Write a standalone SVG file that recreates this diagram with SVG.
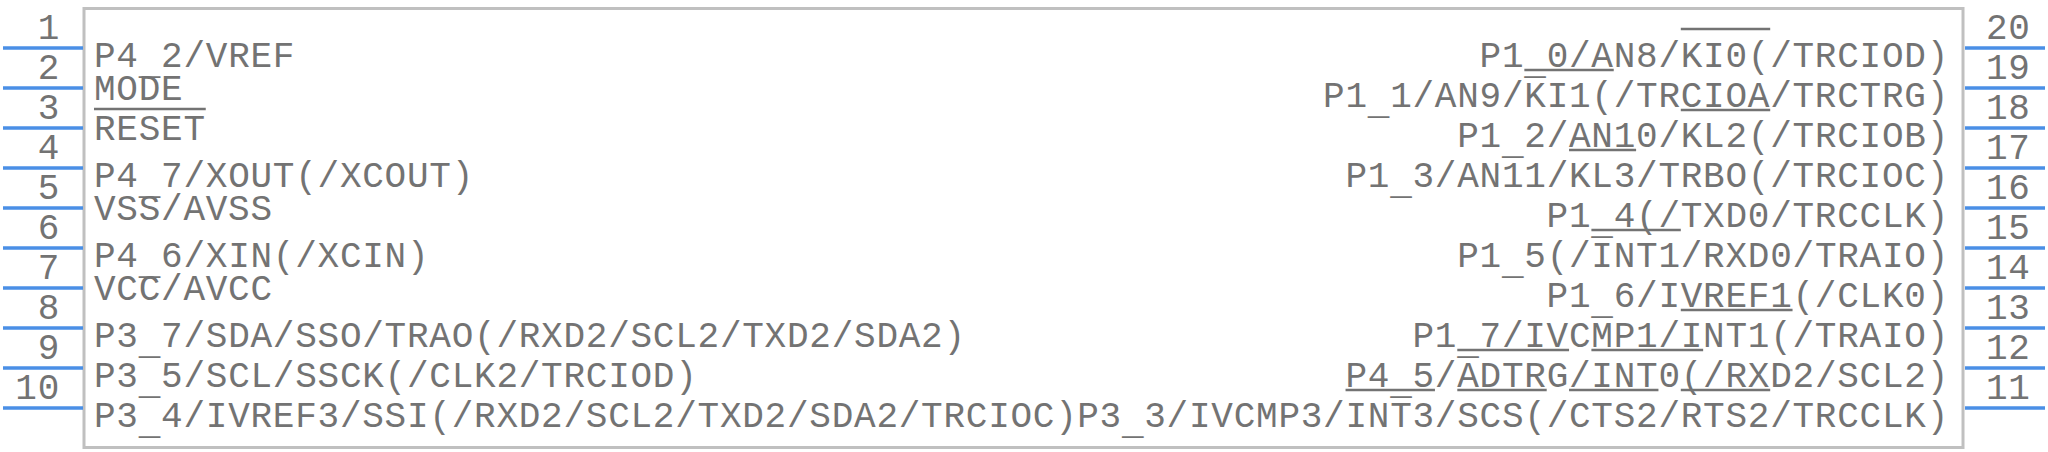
<svg xmlns="http://www.w3.org/2000/svg" width="2048" height="452" viewBox="0 0 2048 452">
<style>
.lbl{font-family:"Liberation Mono","Courier New",monospace;font-size:36px;letter-spacing:0.75px;fill:#737373}
.num{font-family:"Liberation Mono","Courier New",monospace;font-size:36px;letter-spacing:0.75px;fill:#737373}
.r{text-anchor:end}
.pin{stroke:#4a8fe6;stroke-width:3.5;fill:none}
.bar{stroke:#737373;stroke-width:2.5;fill:none}
</style>
<rect id="body" x="84" y="8.5" width="1879" height="439" fill="#ffffff" stroke="#c0c0c0" stroke-width="3"/>
<g id="connectors">
<line class="pin" x1="3" y1="48" x2="83" y2="48"/>
<line class="pin" x1="3" y1="88" x2="83" y2="88"/>
<line class="pin" x1="3" y1="128" x2="83" y2="128"/>
<line class="pin" x1="3" y1="168" x2="83" y2="168"/>
<line class="pin" x1="3" y1="208" x2="83" y2="208"/>
<line class="pin" x1="3" y1="248" x2="83" y2="248"/>
<line class="pin" x1="3" y1="288" x2="83" y2="288"/>
<line class="pin" x1="3" y1="328" x2="83" y2="328"/>
<line class="pin" x1="3" y1="368" x2="83" y2="368"/>
<line class="pin" x1="3" y1="408" x2="83" y2="408"/>
<line class="pin" x1="1965" y1="48" x2="2045" y2="48"/>
<line class="pin" x1="1965" y1="88" x2="2045" y2="88"/>
<line class="pin" x1="1965" y1="128" x2="2045" y2="128"/>
<line class="pin" x1="1965" y1="168" x2="2045" y2="168"/>
<line class="pin" x1="1965" y1="208" x2="2045" y2="208"/>
<line class="pin" x1="1965" y1="248" x2="2045" y2="248"/>
<line class="pin" x1="1965" y1="288" x2="2045" y2="288"/>
<line class="pin" x1="1965" y1="328" x2="2045" y2="328"/>
<line class="pin" x1="1965" y1="368" x2="2045" y2="368"/>
<line class="pin" x1="1965" y1="408" x2="2045" y2="408"/>
</g>
<g id="pin1"><text class="num r" x="60" y="39">1</text><text class="lbl" x="94" y="67">P4<tspan dy="7">_</tspan><tspan dy="-7">2/VREF</tspan></text></g>
<g id="pin2"><text class="num r" x="60" y="79">2</text><text class="lbl" x="94" y="100">MODE</text></g>
<g id="pin3"><text class="num r" x="60" y="119">3</text><text class="lbl" x="94" y="140">RESET</text><line class="bar" x1="94" y1="109" x2="205.75" y2="109"/></g>
<g id="pin4"><text class="num r" x="60" y="159">4</text><text class="lbl" x="94" y="187">P4<tspan dy="7">_</tspan><tspan dy="-7">7/XOUT(/XCOUT)</tspan></text></g>
<g id="pin5"><text class="num r" x="60" y="199">5</text><text class="lbl" x="94" y="220">VSS/AVSS</text></g>
<g id="pin6"><text class="num r" x="60" y="239">6</text><text class="lbl" x="94" y="267">P4<tspan dy="7">_</tspan><tspan dy="-7">6/XIN(/XCIN)</tspan></text></g>
<g id="pin7"><text class="num r" x="60" y="279">7</text><text class="lbl" x="94" y="300">VCC/AVCC</text></g>
<g id="pin8"><text class="num r" x="60" y="319">8</text><text class="lbl" x="94" y="347">P3<tspan dy="7">_</tspan><tspan dy="-7">7/SDA/SSO/TRAO(/RXD2/SCL2/TXD2/SDA2)</tspan></text></g>
<g id="pin9"><text class="num r" x="60" y="359">9</text><text class="lbl" x="94" y="387">P3<tspan dy="7">_</tspan><tspan dy="-7">5/SCL/SSCK(/CLK2/TRCIOD)</tspan></text></g>
<g id="pin10"><text class="num r" x="60" y="399">10</text><text class="lbl" x="94" y="427">P3<tspan dy="7">_</tspan><tspan dy="-7">4/IVREF3/SSI(/RXD2/SCL2/TXD2/SDA2/TRCIOC)</tspan></text></g>
<g id="pin20"><text class="num" x="1986" y="39">20</text><text class="lbl r" x="1949" y="67">P1<tspan dy="7">_</tspan><tspan dy="-7">0/AN8/KI0(/TRCIOD)</tspan></text><line class="bar" x1="1680.8" y1="29" x2="1770.2" y2="29"/></g>
<g id="pin19"><text class="num" x="1986" y="79">19</text><text class="lbl r" x="1949" y="107">P1<tspan dy="7">_</tspan><tspan dy="-7">1/AN9/KI1(/TRCIOA/TRCTRG)</tspan></text><line class="bar" x1="1524.35" y1="70" x2="1613.75" y2="70"/></g>
<g id="pin18"><text class="num" x="1986" y="119">18</text><text class="lbl r" x="1949" y="147">P1<tspan dy="7">_</tspan><tspan dy="-7">2/AN10/KL2(/TRCIOB)</tspan></text><line class="bar" x1="1680.8" y1="110" x2="1770.2" y2="110"/></g>
<g id="pin17"><text class="num" x="1986" y="159">17</text><text class="lbl r" x="1949" y="187">P1<tspan dy="7">_</tspan><tspan dy="-7">3/AN11/KL3/TRBO(/TRCIOC)</tspan></text><line class="bar" x1="1569.05" y1="150" x2="1636.1" y2="150"/></g>
<g id="pin16"><text class="num" x="1986" y="199">16</text><text class="lbl r" x="1949" y="227">P1<tspan dy="7">_</tspan><tspan dy="-7">4(/TXD0/TRCCLK)</tspan></text></g>
<g id="pin15"><text class="num" x="1986" y="239">15</text><text class="lbl r" x="1949" y="267">P1<tspan dy="7">_</tspan><tspan dy="-7">5(/INT1/RXD0/TRAIO)</tspan></text><line class="bar" x1="1591.4" y1="230" x2="1680.8" y2="230"/></g>
<g id="pin14"><text class="num" x="1986" y="279">14</text><text class="lbl r" x="1949" y="307">P1<tspan dy="7">_</tspan><tspan dy="-7">6/IVREF1(/CLK0)</tspan></text></g>
<g id="pin13"><text class="num" x="1986" y="319">13</text><text class="lbl r" x="1949" y="347">P1<tspan dy="7">_</tspan><tspan dy="-7">7/IVCMP1/INT1(/TRAIO)</tspan></text><line class="bar" x1="1680.8" y1="310" x2="1792.55" y2="310"/></g>
<g id="pin12"><text class="num" x="1986" y="359">12</text><text class="lbl r" x="1949" y="387">P4<tspan dy="7">_</tspan><tspan dy="-7">5/ADTRG/INT0(/RXD2/SCL2)</tspan></text><line class="bar" x1="1457.3" y1="350" x2="1569.05" y2="350"/><line class="bar" x1="1591.4" y1="350" x2="1703.15" y2="350"/></g>
<g id="pin11"><text class="num" x="1986" y="399">11</text><text class="lbl r" x="1949" y="427">P3<tspan dy="7">_</tspan><tspan dy="-7">3/IVCMP3/INT3/SCS(/CTS2/RTS2/TRCCLK)</tspan></text><line class="bar" x1="1345.55" y1="390" x2="1434.95" y2="390"/><line class="bar" x1="1457.3" y1="390" x2="1546.7" y2="390"/><line class="bar" x1="1569.05" y1="390" x2="1658.45" y2="390"/><line class="bar" x1="1680.8" y1="390" x2="1770.2" y2="390"/></g>
</svg>
